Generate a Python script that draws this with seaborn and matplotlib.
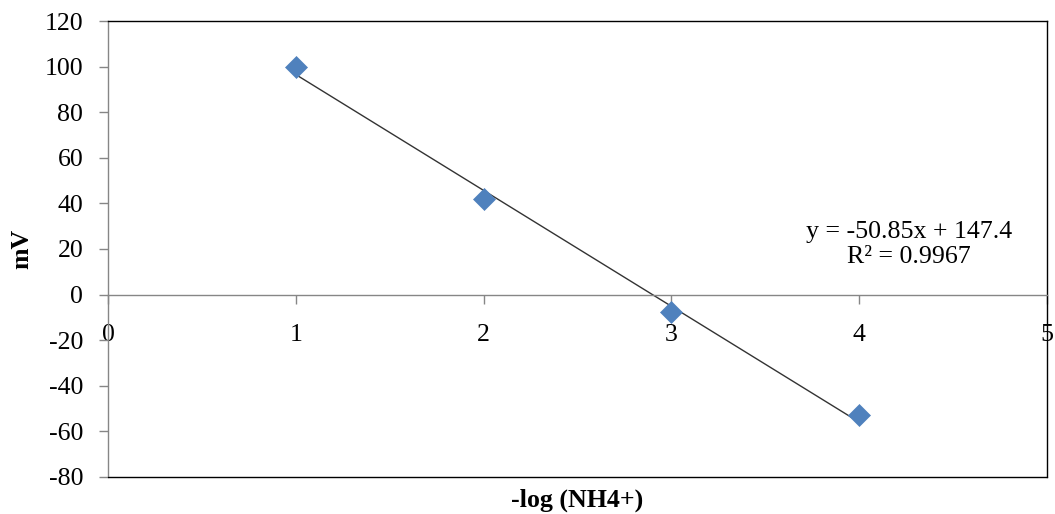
import numpy as np
import pandas as pd
import matplotlib
matplotlib.use("Agg")
import matplotlib.pyplot as plt
from matplotlib.lines import Line2D
import seaborn as sns

# Electrode calibration: potential (mV) against -log of ammonium activity
neg_log_nh4 = [1, 2, 3, 4]
potential_mv = [100.0, 41.85, -7.8, -52.95]

x_ticks = [0, 1, 2, 3, 4, 5]
y_ticks = [-80, -60, -40, -20, 0, 20, 40, 60, 80, 100, 120]

df = pd.DataFrame({"pNH4": neg_log_nh4, "mV": potential_mv})

sns.set_style("white")
plt.rcParams["font.family"] = ["Liberation Serif", "DejaVu Serif"]
plt.rcParams["axes.unicode_minus"] = False
plt.rcParams["text.color"] = "black"
plt.rcParams["axes.labelcolor"] = "black"
plt.rcParams["xtick.labelcolor"] = "black"
plt.rcParams["ytick.labelcolor"] = "black"

FS = 18.6
GRAY = "#868686"
BLUE = "#4F81BD"

fig = plt.figure(figsize=(10.55, 5.14), dpi=100)
ax = fig.add_axes([0.1027, 0.0726, 0.8894, 0.886])

# Linear trendline over the measured range
sns.regplot(data=df, x="pNH4", y="mV", ax=ax, scatter=False, ci=None,
            truncate=True, line_kws=dict(color="#333333", lw=1.0, zorder=2))

# Measured points as diamonds
sns.scatterplot(data=df, x="pNH4", y="mV", ax=ax, marker="D", s=125,
                color=BLUE, edgecolor=BLUE, linewidth=0.5, zorder=3)

# Fit statistics for the equation box
slope, intercept = np.polyfit(neg_log_nh4, potential_mv, 1)
pred = slope * np.array(neg_log_nh4) + intercept
y_arr = np.array(potential_mv)
r2 = 1 - np.sum((y_arr - pred) ** 2) / np.sum((y_arr - y_arr.mean()) ** 2)
sign = "+" if intercept >= 0 else "-"
ax.text(4.265, 22.0,
        f"y = {slope:.2f}x {sign} {abs(intercept):.1f}\nR\u00b2 = {r2:.4f}",
        ha="center", va="center", fontsize=FS, linespacing=1.15,
        color="black")

ax.set_xlim(0, 5)
ax.set_ylim(-80, 120)
ax.set_xticks(x_ticks)
ax.set_yticks(y_ticks)
ax.set_xticklabels([str(v) for v in x_ticks])
ax.set_yticklabels([str(v) for v in y_ticks])

# Category axis crosses at zero; the plot area keeps a black frame
ax.spines["bottom"].set_position(("data", 0))
ax.spines["bottom"].set_color(GRAY)
ax.spines["bottom"].set_linewidth(1.0)
ax.spines["left"].set_color(GRAY)
ax.spines["left"].set_linewidth(1.0)
for side in ("top", "right"):
    ax.spines[side].set_visible(True)
    ax.spines[side].set_color("black")
    ax.spines[side].set_linewidth(1.0)
ax.add_line(Line2D([0, 1], [0, 0], transform=ax.transAxes, color="black",
                   lw=1.0, clip_on=False, zorder=2.6))

ax.tick_params(axis="y", direction="out", length=6.5, width=1.0,
               color=GRAY, pad=11.5, labelsize=FS, left=True,
               labelcolor="black")
ax.tick_params(axis="x", direction="out", length=6.5, width=1.0,
               color=GRAY, pad=14.5, labelsize=FS, bottom=True,
               labelcolor="black")

ax.set_xlabel("-log (NH4+)", fontsize=FS, fontweight="bold", va="center",
              color="black")
ax.set_ylabel("mV", fontsize=FS, fontweight="bold", va="center",
              color="black")
ax.xaxis.set_label_coords(0.5, -0.051)
ax.yaxis.set_label_coords(-0.092, 0.5)

fig.savefig("out.png", dpi=100)
